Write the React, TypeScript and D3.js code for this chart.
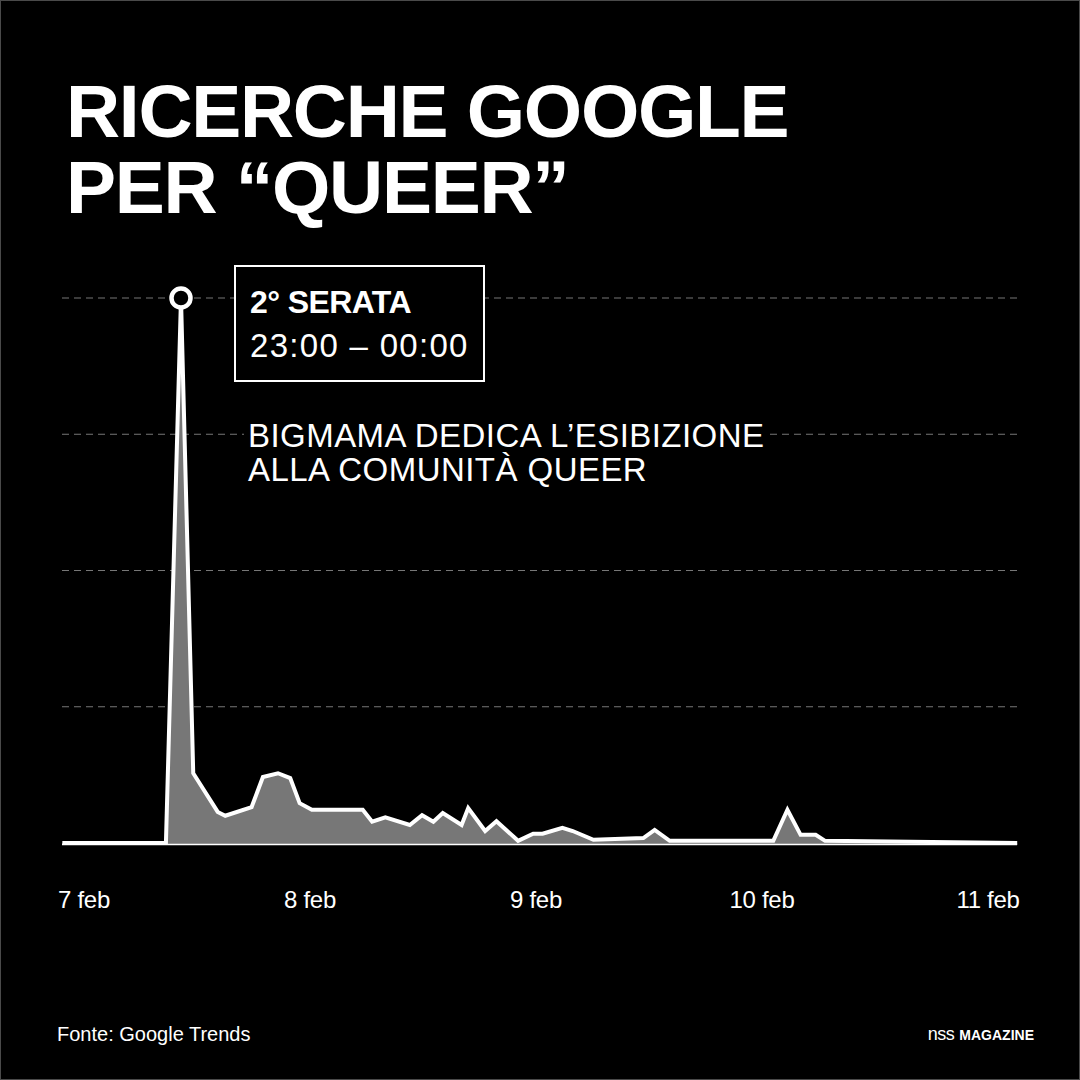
import React from "react";
import * as d3 from "d3";

// Ore dal 7 feb 00:00 e valore Google Trends (0-100)
const hours = [
  -2.3, 8.7, 10.3, 11.6, 14.2, 15.0, 17.8, 19.0, 20.6, 21.9, 22.9, 24.2, 29.6, 30.6, 32.0,
  34.6, 35.9, 37.1, 38.1, 40.1, 40.8, 42.6, 43.8, 46.1, 47.7, 48.7, 50.8, 51.9, 54.1,
  59.4, 60.6, 62.2, 73.2, 74.7, 76.1, 77.7, 78.7, 99.1,
];
const values = [
  0, 0, 100, 12.8, 5.7, 5.0, 6.6, 12.1, 12.8, 11.9, 7.3, 6.1, 6.1, 3.9, 4.7,
  3.3, 5.1, 3.9, 5.5, 3.3, 6.4, 2.2, 4.0, 0.4, 1.7, 1.7, 2.8, 2.2, 0.6,
  0.9, 2.4, 0.4, 0.4, 6.1, 1.5, 1.5, 0.4, 0,
];
const tickHours = [0, 24, 48, 72, 96];
const tickLabels = ["7 feb", "8 feb", "9 feb", "10 feb", "11 feb"];
const gridValues = [25, 50, 75, 100];

const FONT = "'Liberation Sans', Arial, Helvetica, sans-serif";

export default function App() {
  const width = 1080;
  const height = 1080;
  const left = 62;
  const right = 1017;

  const x = d3.scaleLinear().domain([0, 96]).range([84, 988]);
  const y = d3.scaleLinear().domain([0, 100]).range([843, 298]);

  const data = hours.map((h, i) => ({ h, v: values[i] }));

  const line = d3.line<{ h: number; v: number }>()
    .x(d => x(d.h))
    .y(d => y(d.v));
  const area = d3.area<{ h: number; v: number }>()
    .x(d => x(d.h))
    .y0(y(0) + 2)
    .y1(d => y(d.v));

  const peak = data[d3.maxIndex(data, d => d.v)];

  return (
    <svg
      width={width}
      height={height}
      style={{ position: "absolute", left: 0, top: 0, background: "#000" }}
    >
      <rect x={0.5} y={0.5} width={width - 1} height={height - 1} fill="#000" stroke="#4a4a4a" />

      {/* Titolo */}
      <text fill="#fff" fontFamily={FONT} fontWeight={700} fontSize={75} letterSpacing={-1.3}>
        <tspan x={66} y={137}>RICERCHE GOOGLE</tspan>
        <tspan x={66} y={213}>PER “QUEER”</tspan>
      </text>

      {/* Griglia */}
      {gridValues.map(g => (
        <line
          key={g}
          x1={left}
          x2={right}
          y1={y(g)}
          y2={y(g)}
          stroke="#777"
          strokeWidth={1}
          strokeDasharray="7,5"
        />
      ))}

      {/* Area e linea */}
      <path d={area(data) ?? ""} fill="#777" />
      <line x1={left} x2={right} y1={y(0) + 1.5} y2={y(0) + 1.5} stroke="#fff" strokeWidth={1.5} />
      <path
        d={line(data) ?? ""}
        fill="none"
        stroke="#fff"
        strokeWidth={4}
        strokeLinejoin="miter"
      />
      <circle cx={x(peak.h)} cy={y(peak.v)} r={9.5} fill="#000" stroke="#fff" strokeWidth={4.5} />

      {/* Annotazione */}
      <rect x={235} y={266} width={249} height={115} fill="#000" stroke="#fff" strokeWidth={2} />
      <text x={250} y={313} fill="#fff" fontFamily={FONT} fontWeight={700} fontSize={32} letterSpacing={-0.6}>
        2° SERATA
      </text>
      <text x={250} y={357} fill="#fff" fontFamily={FONT} fontSize={33} letterSpacing={1.3}>
        23:00 – 00:00
      </text>

      <rect x={244} y={418} width={526} height={72} fill="#000" />
      <text fill="#fff" fontFamily={FONT} fontSize={33} letterSpacing={0.45}>
        <tspan x={248} y={447}>BIGMAMA DEDICA L’ESIBIZIONE</tspan>
        <tspan x={248} y={481}>ALLA COMUNITÀ QUEER</tspan>
      </text>

      {/* Asse X */}
      {tickHours.map((t, i) => (
        <text
          key={t}
          x={x(t)}
          y={908}
          fill="#fff"
          fontFamily={FONT}
          fontSize={24}
          textAnchor="middle"
          letterSpacing={-0.3}
        >
          {tickLabels[i]}
        </text>
      ))}

      {/* Fonte */}
      <text x={57} y={1041} fill="#fff" fontFamily={FONT} fontSize={20}>
        Fonte: Google Trends
      </text>
      <text x={1034} y={1040} fill="#fff" fontFamily={FONT} fontSize={14} fontWeight={700} textAnchor="end">
        <tspan fontWeight={400} fontSize={18} letterSpacing={-0.5}>nss</tspan>
        <tspan dx={5}>MAGAZINE</tspan>
      </text>
    </svg>
  );
}
